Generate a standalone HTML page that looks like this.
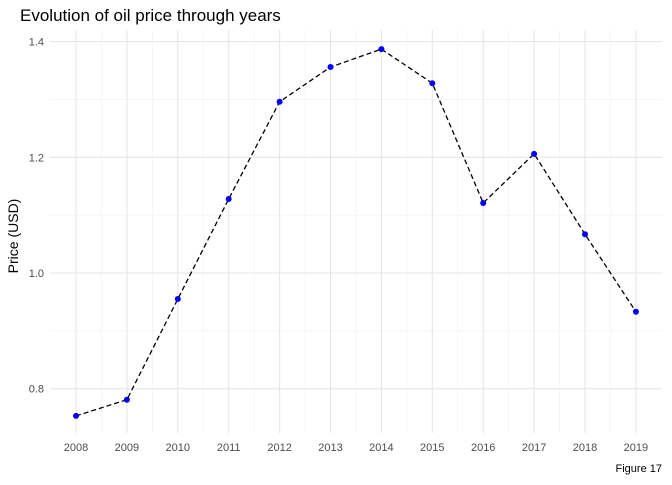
<!DOCTYPE html>
<html><head><meta charset="utf-8"><style>
body{margin:0;background:#fff;font-family:"Liberation Sans",sans-serif}
svg text{font-family:"Liberation Sans",sans-serif}
</style></head><body>
<svg id="c" width="672" height="480">
<text x="20" y="21" font-size="17" fill="#000">Evolution of oil price through years</text>
<text transform="translate(18,236) rotate(-90)" text-anchor="middle" font-size="14" fill="#000">Price (USD)</text>
<text x="662" y="472" text-anchor="end" font-size="11" fill="#000">Figure 17</text>
<g id="grid"></g><g id="marks"></g>
</svg>
<script>
const years=[2008,2009,2010,2011,2012,2013,2014,2015,2016,2017,2018,2019];
const prices=[0.753,0.781,0.955,1.128,1.296,1.356,1.387,1.328,1.121,1.206,1.067,0.933];
const yTicks=[0.8,1.0,1.2,1.4];
const yMinor=[0.7,0.9,1.1,1.3];
const NS="http://www.w3.org/2000/svg";
const x=v=>76+(v-2008)*50.9;
const y=v=>273-(v-1.0)*578.5;
const L=50,R=662,T=30,B=433;
const grid=document.getElementById('grid'),marks=document.getElementById('marks');
function mk(t,a,p){const e=document.createElementNS(NS,t);for(const k in a)e.setAttribute(k,a[k]);p.appendChild(e);return e;}
yMinor.forEach(v=>{if(y(v)<T||y(v)>B)return;const e=mk('line',{x1:L,x2:R,y1:y(v),y2:y(v),stroke:'#f0f0f0','stroke-width':0.6},grid);

});
years.forEach((yr,i)=>{if(i<years.length-1){const e=mk('line',{x1:x(yr+0.5),x2:x(yr+0.5),y1:T,y2:B,stroke:'#f0f0f0','stroke-width':0.6},grid);

}});
yTicks.forEach(v=>{const e=mk('line',{x1:L,x2:R,y1:y(v),y2:y(v),stroke:'#e6e6e6','stroke-width':1.1},grid);


const t=mk('text',{x:44,y:y(v)+4,'text-anchor':'end','font-size':11,fill:'#4d4d4d'},grid);t.textContent=v.toFixed(1);

});
years.forEach(yr=>{const e=mk('line',{x1:x(yr),x2:x(yr),y1:T,y2:B,stroke:'#e6e6e6','stroke-width':1.1},grid);


const t=mk('text',{x:x(yr),y:451,'text-anchor':'middle','font-size':11,fill:'#4d4d4d'},grid);t.textContent=yr;

});
const line=mk('polyline',{points:years.map((yr,i)=>x(yr)+','+y(prices[i])).join(' '),fill:'none',stroke:'#000','stroke-width':1.3,'stroke-dasharray':'5,3'},marks);


years.forEach((yr,i)=>{const c=mk('circle',{cx:x(yr),cy:y(prices[i]),r:3,fill:'#0000ff'},marks);

});
</script>
</body></html>
